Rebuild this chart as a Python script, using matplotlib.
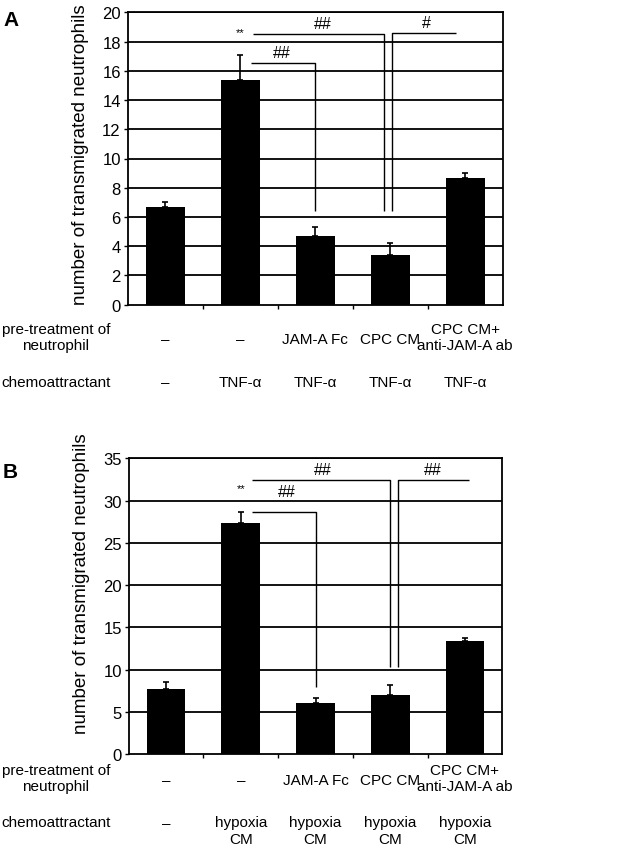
import matplotlib
matplotlib.use('Agg')
import matplotlib.pyplot as plt
from matplotlib.transforms import blended_transform_factory

plt.rcParams['font.family'] = ['Liberation Sans', 'DejaVu Sans']

x = [0, 1, 2, 3, 4]
pretreat = ['–', '–', 'JAM-A Fc', 'CPC CM', 'CPC CM+\nanti-JAM-A ab']
chemo_a = ['–', 'TNF-α', 'TNF-α', 'TNF-α', 'TNF-α']
chemo_b = ['–', 'hypoxia\nCM', 'hypoxia\nCM', 'hypoxia\nCM', 'hypoxia\nCM']

means_a = [6.7, 15.4, 4.7, 3.4, 8.7]
err_a = [0.35, 1.7, 0.6, 0.85, 0.3]
means_b = [7.7, 27.4, 6.1, 7.05, 13.4]
err_b = [0.85, 1.2, 0.6, 1.15, 0.3]

W, H = 622, 853
fig = plt.figure(figsize=(W / 100, H / 100), dpi=100)


def px_axes(left, top, right, bottom):
    return fig.add_axes([left / W, 1 - bottom / H, (right - left) / W, (bottom - top) / H])


def fy(py):
    return 1 - py / H


def draw_panel(ax, means, errs, ymax, step):
    ax.set_xlim(-0.5, 4.5)
    ax.set_ylim(0, ymax)
    yt = list(range(0, ymax + 1, step))
    for v in yt[1:]:
        ax.axhline(v, color='black', lw=1.3, zorder=1)
    ax.bar(x, means, width=0.52, color='black', zorder=2)
    ax.errorbar(x, means, yerr=[[0] * 5, errs], fmt='none', ecolor='black',
                elinewidth=1.2, capsize=2, capthick=1.2, zorder=3)
    ax.set_yticks(yt)
    ax.tick_params(axis='y', labelsize=12, length=3, width=1, pad=2, direction='out')
    ax.set_xticks([0.5, 1.5, 2.5, 3.5])
    ax.set_xticklabels([])
    ax.tick_params(axis='x', length=3, width=1, direction='out')
    for s in ax.spines.values():
        s.set_linewidth(1.3)
        s.set_color('black')
    ax.set_ylabel('number of transmigrated neutrophils', fontsize=13.5)


def bracket(ax, pts, lw=1.0):
    xs = [p[0] for p in pts]
    ys = [p[1] for p in pts]
    ax.plot(xs, ys, color='black', lw=lw, zorder=4, solid_capstyle='butt')


# ---- panel A ----
axA = px_axes(127.7, 13.3, 502.7, 305.7)
draw_panel(axA, means_a, err_a, 20, 2)
axA.yaxis.set_label_coords(-0.103, 0.517)
bracket(axA, [(1.17, 18.5), (2.92, 18.5), (2.92, 6.4)])
bracket(axA, [(3.03, 6.4), (3.03, 18.58), (3.88, 18.58)])
bracket(axA, [(1.14, 16.5), (2.0, 16.5), (2.0, 6.4)])
axA.text(1.0, 18.67, '**', fontsize=8, ha='center', va='center', zorder=5)
axA.text(2.1, 19.25, '##', fontsize=11.5, ha='center', va='center', zorder=5)
axA.text(3.48, 19.3, '#', fontsize=11.5, ha='center', va='center', zorder=5)
axA.text(1.56, 17.25, '##', fontsize=11.5, ha='center', va='center', zorder=5)

trA = blended_transform_factory(axA.transData, fig.transFigure)
for i, lab in enumerate(pretreat):
    yy = 338 if '\n' in lab else 340
    axA.text(x[i], fy(yy), lab, transform=trA, ha='center', va='center',
             fontsize=11, linespacing=1.25)
for i, lab in enumerate(chemo_a):
    axA.text(x[i], fy(383), lab, transform=trA, ha='center', va='center', fontsize=11)
fig.text(56 / W, fy(338), 'pre-treatment of\nneutrophil', ha='center', va='center',
         fontsize=11, linespacing=1.25)
fig.text(56 / W, fy(383), 'chemoattractant', ha='center', va='center', fontsize=11)
fig.text(3 / W, fy(20), 'A', fontsize=15, fontweight='bold', ha='left', va='center')

# ---- panel B ----
axB = px_axes(128.7, 459.3, 502.3, 755.3)
draw_panel(axB, means_b, err_b, 35, 5)
axB.yaxis.set_label_coords(-0.103, 0.58)
bracket(axB, [(1.15, 32.43), (3.0, 32.43), (3.0, 10.29)])
bracket(axB, [(3.1, 10.29), (3.1, 32.43), (4.05, 32.43)])
bracket(axB, [(1.15, 28.65), (2.0, 28.65), (2.0, 8.0)])
axB.text(1.01, 31.45, '**', fontsize=8, ha='center', va='center', zorder=5)
axB.text(2.1, 33.65, '##', fontsize=11.5, ha='center', va='center', zorder=5)
axB.text(3.57, 33.65, '##', fontsize=11.5, ha='center', va='center', zorder=5)
axB.text(1.62, 31.1, '##', fontsize=11.5, ha='center', va='center', zorder=5)

trB = blended_transform_factory(axB.transData, fig.transFigure)
for i, lab in enumerate(pretreat):
    yy = 779 if '\n' in lab else 781
    axB.text(x[i], fy(yy), lab, transform=trB, ha='center', va='center',
             fontsize=11, linespacing=1.25)
for i, lab in enumerate(chemo_b):
    yy = 831.7 if '\n' in lab else 824
    axB.text(x[i], fy(yy), lab, transform=trB, ha='center', va='center',
             fontsize=11, linespacing=1.3)
fig.text(56 / W, fy(779), 'pre-treatment of\nneutrophil', ha='center', va='center',
         fontsize=11, linespacing=1.2)
fig.text(56 / W, fy(823), 'chemoattractant', ha='center', va='center', fontsize=11)
fig.text(3 / W, fy(473), 'B', fontsize=15, fontweight='bold', ha='left', va='center')

fig.savefig('out.png', dpi=100, facecolor='white')
